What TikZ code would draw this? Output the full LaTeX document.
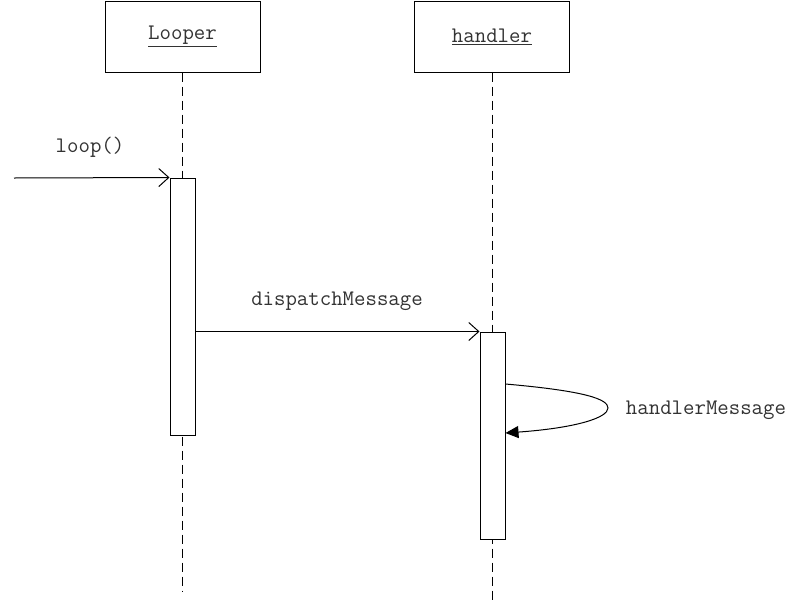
\documentclass[tikz,border=0pt]{standalone}
\usetikzlibrary{arrows.meta}
\begin{document}
\begin{tikzpicture}[x=1pt,y=-1pt,line width=1pt,
  font=\fontsize{22.2}{25}\selectfont\ttfamily,
  header/.style={draw,rectangle,minimum width=155pt,minimum height=71pt,inner sep=0pt},
  actbox/.style={draw,fill=white,rectangle,minimum width=25pt,inner sep=0pt},
  lifeline/.style={dash pattern=on 9pt off 5pt},
  msg/.style={-{Straight Barb[length=10pt,width=18pt,line width=1pt]}},
  selfmsg/.style={-{Triangle[length=13pt,width=12pt]}},
  lbl/.style={inner sep=0pt,text=black!80}]
\useasboundingbox (0,0) rectangle (800,600);
\fill[white] (0,0) rectangle (800,600);
% headers
\node[header] (looper) at (182.5,36.5) {\textcolor{black!80}{\underline{Looper}}};
\node[header] (handler) at (492,36.5) {\textcolor{black!80}{\underline{handler}}};
% lifeline ends
\coordinate (lend) at (182.5,592);
\coordinate (hend) at (492,600);
\draw[lifeline] (looper.south) -- (lend);
\draw[lifeline] (handler.south) -- (hend);
% activation boxes
\node[actbox,minimum height=257pt] (la) at (182.5,306.5) {};
\node[actbox,minimum height=207pt] (ha) at (492.5,435.5) {};
% found message
\coordinate (start) at (14,178);
\draw[msg] (start) -- (la.north west);
\node[lbl] (loopl) at (90,147) {loop()};
% dispatch
\draw[msg] (la.east |- ha.north) -- (ha.north west);
\node[lbl] (displ) at (337,301) {dispatchMessage};
% self message
\draw[selfmsg] (ha.east |- 0,384) .. controls (585,391) and (608,399) .. (608,408)
  .. controls (608,418) and (575,428) .. (ha.east |- 0,433);
\node[lbl] (hml) at (706,410) {handlerMessage};
\end{tikzpicture}
\end{document}
